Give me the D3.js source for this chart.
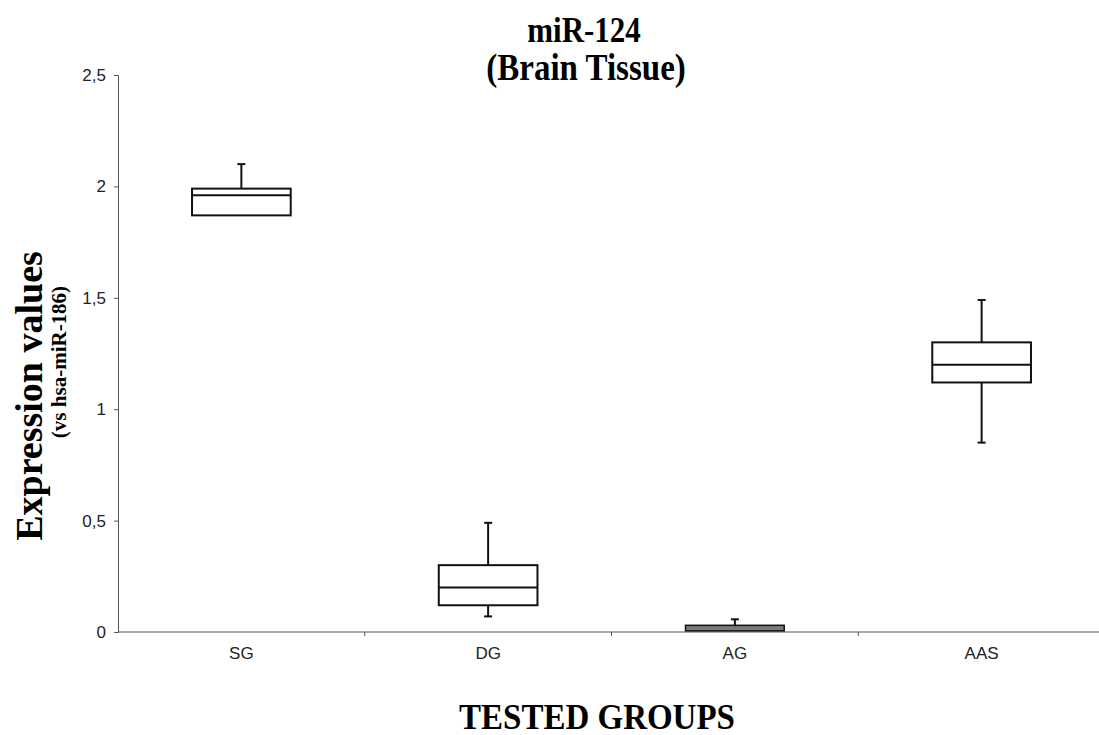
<!DOCTYPE html>
<html>
<head>
<meta charset="utf-8">
<script src="https://cdn.jsdelivr.net/npm/d3@7"></script>
<style>
  body { margin: 0; background: #fff; }
  svg { display: block; }
  .tick text { font-family: "Liberation Sans", Arial, sans-serif; font-size: 17px; fill: #222; }
  .domain, .tick line { stroke: #555; }
</style>
</head>
<body>
<div class="canvas"></div>
<script>
// chart data
const groups = ['SG', 'DG', 'AG', 'AAS']
const whiskerLow = [1.87, 0.07, 0.005, 0.85]
const q1 = [1.87, 0.12, 0.005, 1.12]
const median = [1.96, 0.20, 0.018, 1.20]
const q3 = [1.99, 0.30, 0.03, 1.30]
const whiskerHigh = [2.10, 0.49, 0.057, 1.49]
const boxFill = ['#fff', '#fff', '#7a7a7a', '#fff']
const yTicks = [0, 0.5, 1, 1.5, 2, 2.5]

const width = 1099
const height = 735

const svg = d3.select('.canvas')
    .append('svg')
    .attr('width', width)
    .attr('height', height)

const xScale = d3.scaleBand().domain(groups).range([118, 1105]).paddingInner(0).paddingOuter(0)
const yScale = d3.scaleLinear().domain([0, 2.5]).range([632, 75])

const commaFmt = d => String(d).replace('.', ',')

// y axis
svg.append('g')
    .attr('transform', 'translate(118,0)')
    .call(d3.axisLeft(yScale).tickValues(yTicks).tickFormat(commaFmt).tickSize(4).tickPadding(8))

// x axis: ticks between the groups
const xAxisGroup = svg.append('g')
    .attr('transform', 'translate(0,632)')
    .call(d3.axisBottom(xScale).tickSize(0).tickPadding(15))
xAxisGroup.select('.domain').attr('d', `M${xScale.range()[0]},0H${xScale.range()[1]}`)
xAxisGroup.selectAll('.sep')
    .data(groups.slice(1))
    .enter()
    .append('line')
        .attr('class', 'sep')
        .attr('x1', d => xScale(d))
        .attr('x2', d => xScale(d))
        .attr('y1', 0)
        .attr('y2', 4)
        .attr('stroke', '#555')

// boxes
const boxW = xScale.bandwidth() * 0.4
const capW = 8
const boxes = svg.selectAll('.box')
    .data(groups.map((g, i) => ({ g, i })))
    .enter()
    .append('g')
        .attr('class', 'box')
        .attr('transform', d => `translate(${xScale(d.g) + xScale.bandwidth() / 2},0)`)

boxes.append('line')
    .attr('y1', d => yScale(whiskerHigh[d.i]))
    .attr('y2', d => yScale(q3[d.i]))
    .attr('stroke', '#111').attr('stroke-width', 2)
boxes.append('line')
    .attr('y1', d => yScale(q1[d.i]))
    .attr('y2', d => yScale(whiskerLow[d.i]))
    .attr('stroke', '#111').attr('stroke-width', 2)
boxes.filter(d => whiskerHigh[d.i] > q3[d.i]).append('line')
    .attr('x1', -capW / 2).attr('x2', capW / 2)
    .attr('y1', d => yScale(whiskerHigh[d.i]))
    .attr('y2', d => yScale(whiskerHigh[d.i]))
    .attr('stroke', '#111').attr('stroke-width', 2)
boxes.filter(d => whiskerLow[d.i] < q1[d.i]).append('line')
    .attr('x1', -capW / 2).attr('x2', capW / 2)
    .attr('y1', d => yScale(whiskerLow[d.i]))
    .attr('y2', d => yScale(whiskerLow[d.i]))
    .attr('stroke', '#111').attr('stroke-width', 2)
boxes.append('rect')
    .attr('x', -boxW / 2)
    .attr('width', boxW)
    .attr('y', d => yScale(q3[d.i]))
    .attr('height', d => yScale(q1[d.i]) - yScale(q3[d.i]))
    .attr('fill', d => boxFill[d.i])
    .attr('stroke', '#111').attr('stroke-width', d => d.i === 2 ? 1.5 : 2)
boxes.filter(d => d.i !== 2).append('line')
    .attr('x1', -boxW / 2).attr('x2', boxW / 2)
    .attr('y1', d => yScale(median[d.i]))
    .attr('y2', d => yScale(median[d.i]))
    .attr('stroke', '#111').attr('stroke-width', 2)

// titles
const serif = '"Liberation Serif", "Times New Roman", serif'
svg.append('text')
    .attr('transform', 'translate(584,42) scale(1,1.15)')
    .attr('text-anchor', 'middle')
    .style('font-family', serif).style('font-weight', 'bold').style('font-size', '31px')
    .text('miR-124')
svg.append('text')
    .attr('transform', 'translate(586,80) scale(1,1.15)')
    .attr('text-anchor', 'middle')
    .style('font-family', serif).style('font-weight', 'bold').style('font-size', '33px')
    .text('(Brain Tissue)')
svg.append('text')
    .attr('transform', 'translate(597,729) scale(1,1.08)')
    .attr('text-anchor', 'middle')
    .style('font-family', serif).style('font-weight', 'bold').style('font-size', '33px')
    .text('TESTED GROUPS')
svg.append('text')
    .attr('transform', 'translate(42,396) rotate(-90)')
    .attr('text-anchor', 'middle')
    .style('font-family', serif).style('font-weight', 'bold').style('font-size', '38px')
    .text('Expression values')
svg.append('text')
    .attr('transform', 'translate(66,362) rotate(-90)')
    .attr('text-anchor', 'middle')
    .style('font-family', serif).style('font-weight', 'bold').style('font-size', '21px')
    .text('(vs hsa-miR-186)')
</script>
</body>
</html>
